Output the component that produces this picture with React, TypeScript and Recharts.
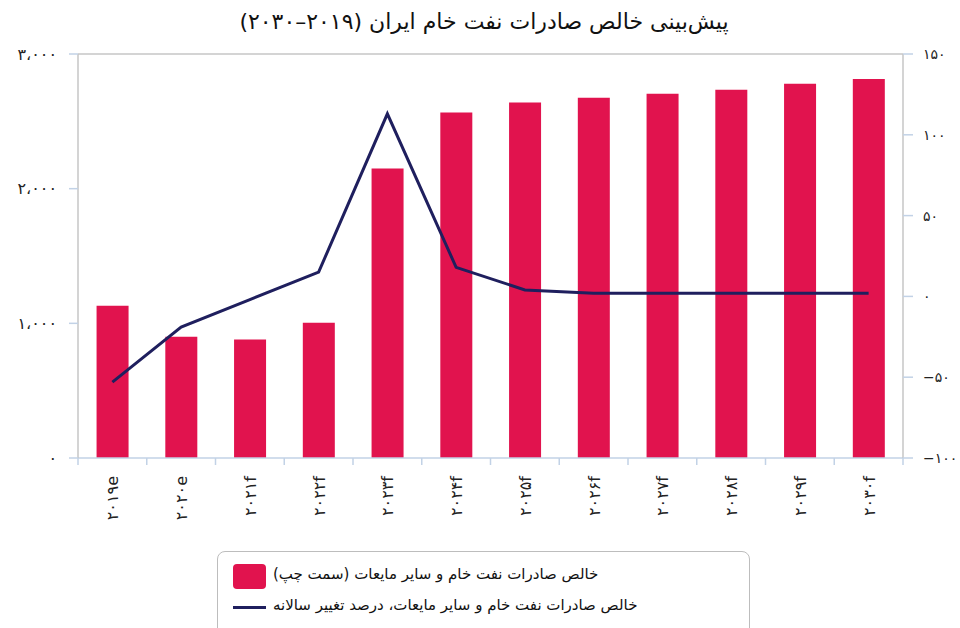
import React from 'react';
import { ComposedChart, Bar, Line, XAxis, YAxis, ReferenceLine } from 'recharts';

const categories = ['۲۰۱۹e', '۲۰۲۰e', '۲۰۲۱f', '۲۰۲۲f', '۲۰۲۳f', '۲۰۲۴f', '۲۰۲۵f', '۲۰۲۶f', '۲۰۲۷f', '۲۰۲۸f', '۲۰۲۹f', '۲۰۳۰f'];
const exportsVolume = [1130, 900, 880, 1005, 2150, 2565, 2640, 2675, 2705, 2735, 2780, 2815];
const yearlyChange = [-53, -19, -2, 15, 113, 18, 4, 2, 2, 2, 2, 2];

const leftTicks = [0, 1000, 2000, 3000];
const leftTickLabels = ['۰', '۱،۰۰۰', '۲،۰۰۰', '۳،۰۰۰'];
const rightTicks = [-100, -50, 0, 50, 100, 150];
const rightTickLabels = ['−۱۰۰', '−۵۰', '۰', '۵۰', '۱۰۰', '۱۵۰'];

const title = 'پیش‌بینی خالص صادرات نفت خام ایران (۲۰۱۹–۲۰۳۰)';
const barName = 'خالص صادرات نفت خام و سایر مایعات (سمت چپ)';
const lineName = 'خالص صادرات نفت خام و سایر مایعات، درصد تغییر سالانه';

const data = categories.map((c, i) => ({ cat: c, vol: exportsVolume[i], chg: yearlyChange[i] }));

const BAR = '#E1134E';
const LINE = '#1F1F5E';
const AXIS_GRAY = '#C6C6C6';
const TICK_BLUE = '#C2D2E6';
const FONT = '"DejaVu Sans", sans-serif';

const XTick = (props: any) => {
  const { x, y, payload, index, visibleTicksCount } = props;
  const off = payload && typeof payload.offset === 'number' && payload.offset > 0 ? payload.offset : 825 / 24;
  const last = index === (visibleTicksCount ?? categories.length) - 1;
  return (
    <g>
      <line x1={x - off} x2={x - off} y1={y} y2={y + 7} stroke={TICK_BLUE} strokeWidth={1.5} />
      {last && <line x1={x + off} x2={x + off} y1={y} y2={y + 7} stroke={TICK_BLUE} strokeWidth={1.5} />}
      <text x={0} y={0} dy={6} transform={`translate(${x},${y + 18}) rotate(-90)`} textAnchor="end" fill="#222" fontSize={16} fontFamily={FONT}>
        {payload.value}
      </text>
    </g>
  );
};

export default function App() {
  return (
    <div style={{ position: 'absolute', left: 0, top: 0, width: 960, height: 628, background: '#fff', overflow: 'hidden' }}>
      <div dir="rtl" style={{ position: 'absolute', left: 0, top: 9, width: 968, textAlign: 'center', fontFamily: FONT, fontSize: 22, color: '#111' }}>
        {title}
      </div>
      <ComposedChart width={960} height={628} data={data} margin={{ top: 54, right: 0, left: 8, bottom: 90 }} barCategoryGap="27%">
        <XAxis xAxisId="cat" dataKey="cat" axisLine={{ stroke: TICK_BLUE, strokeWidth: 1.5 }} tickLine={false} tickSize={0} tickMargin={0} tick={<XTick />} height={80} interval={0} />
        <YAxis yAxisId="left" domain={[0, 3000]} ticks={leftTicks} tickFormatter={(v: number) => leftTickLabels[leftTicks.indexOf(v)]} axisLine={{ stroke: AXIS_GRAY, strokeWidth: 1.5 }} tickLine={{ stroke: TICK_BLUE, strokeWidth: 1.5 }} tickSize={9} tickMargin={12} width={70} tick={{ fill: '#222', fontSize: 16, fontFamily: FONT }} />
        <YAxis yAxisId="right" orientation="right" domain={[-100, 150]} ticks={rightTicks} tickFormatter={(v: number) => rightTickLabels[rightTicks.indexOf(v)]} axisLine={{ stroke: AXIS_GRAY, strokeWidth: 1.5 }} tickLine={{ stroke: TICK_BLUE, strokeWidth: 1.5 }} tickSize={10} tickMargin={10} width={57} tick={{ fill: '#222', fontSize: 14, fontFamily: FONT, textAnchor: 'start' }} />
        <ReferenceLine yAxisId="left" xAxisId="cat" y={3000} stroke={AXIS_GRAY} strokeWidth={1.5} />
        <Bar xAxisId="cat" yAxisId="left" dataKey="vol" name={barName} fill={BAR} isAnimationActive={false} />
        <Line xAxisId="cat" yAxisId="right" dataKey="chg" name={lineName} type="linear" stroke={LINE} strokeWidth={3} dot={false} activeDot={false} isAnimationActive={false} />
      </ComposedChart>
      <div style={{ position: 'absolute', left: 217, top: 551, width: 533, height: 100, border: '1.5px solid #BDBDBD', borderRadius: 8, boxSizing: 'border-box', fontFamily: FONT, fontSize: 15, color: '#111' }}>
        <div style={{ position: 'absolute', left: 15, top: 12, width: 33, height: 25, background: BAR, borderRadius: 4 }} />
        <div dir="rtl" style={{ position: 'absolute', left: 55, top: 13, whiteSpace: 'nowrap' }}>{barName}</div>
        <div style={{ position: 'absolute', left: 15, top: 54, width: 33, height: 3, background: LINE }} />
        <div dir="rtl" style={{ position: 'absolute', left: 55, top: 44, whiteSpace: 'nowrap' }}>{lineName}</div>
      </div>
    </div>
  );
}
